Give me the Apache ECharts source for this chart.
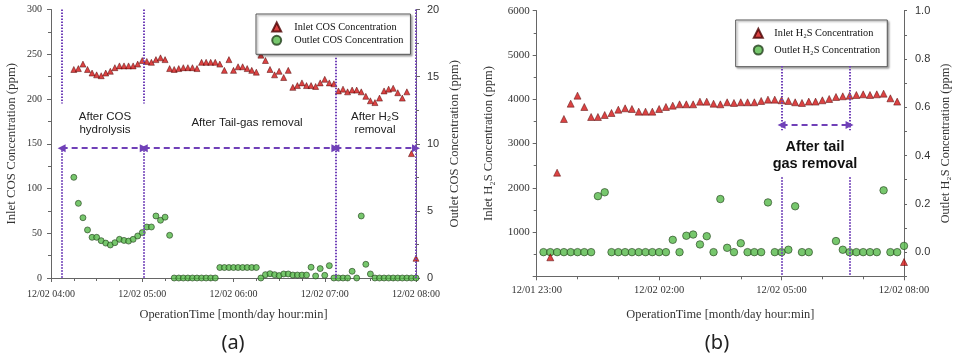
<!DOCTYPE html>
<html>
<head>
<meta charset="utf-8">
<script src="https://cdn.jsdelivr.net/npm/echarts@6/dist/echarts.min.js"></script>
<style>
html, body { margin: 0; padding: 0; background: #fff; }
#main { width: 954px; height: 362px; }
</style>
</head>
<body>
<div id="main"></div>
<script>
var chart = echarts.init(document.getElementById('main'));

// ---- (a) COS, sampled about every 3 min on 12/02 ----
var cosTime = [
    '04:15','04:18','04:21','04:24','04:27','04:30','04:33','04:36','04:39','04:42',
    '04:45','04:48','04:51','04:54','04:57','05:00','05:03','05:06','05:09','05:12',
    '05:15','05:18','05:21','05:24','05:27','05:30','05:33','05:36','05:39','05:42',
    '05:45','05:48','05:51','05:54','05:57','06:00','06:03','06:06','06:09','06:12',
    '06:15','06:18','06:21','06:24','06:27','06:30','06:33','06:36','06:39','06:42',
    '06:45','06:48','06:51','06:54','06:57','07:00','07:03','07:06','07:09','07:12',
    '07:15','07:18','07:21','07:24','07:27','07:30','07:33','07:36','07:39','07:42',
    '07:45','07:48','07:51','07:54','07:57','08:00'
];
var cosInlet = [
    233, 234, 239, 233, 229, 227, 226, 229, 231, 235,
    237, 237, 237, 237, 239, 243, 242, 241, 244, 246,
    244, 234, 233, 234, 235, 235, 235, 234, 241, 241,
    241, 241, 239, 232, 244, 232, 236, 236, 234, 232,
    230, 249, 243, 233, 227, 231, 224, 232, 213, 215,
    218, 215, 215, 214, 218, 222, 218, 217, 209, 211,
    208, 210, 210, 208, 203, 198, 196, 201, 209, 211,
    212, 207, 201, 208, 139, 22
];
var cosOutlet = [
    7.50, 5.56, 4.49, 3.58, 3.03, 3.03, 2.78, 2.60, 2.46, 2.63,
    2.88, 2.80, 2.75, 2.88, 3.13, 3.38, 3.80, 3.80, 4.62, 4.30,
    4.53, 3.18, 0, 0, 0, 0, 0, 0, 0, 0,
    0, 0, 0.78, 0.78, 0.78, 0.78, 0.78, 0.78, 0.78, 0.78,
    0.78, 0, 0.25, 0.32, 0.25, 0.18, 0.30, 0.30, 0.22, 0.22,
    0.22, 0.22, 0.80, 0.15, 0.70, 0.20, 0.92, 0, 0, 0,
    0, 0.50, 0, 4.62, 1.02, 0.30, 0, 0, 0, 0,
    0, 0, 0, 0, 0, 0
];
var cosPhase = ['04:07', '05:01', '07:07', '08:00'];

// ---- (b) H2S, sampled every 10 min, 12/01 23:00 - 12/02 08:00 ----
var h2sInTime = [
    '23:20','23:30','23:40','23:50','00:00','00:10','00:20','00:30','00:40','00:50',
    '01:00','01:10','01:20','01:30','01:40','01:50','02:00','02:10','02:20','02:30',
    '02:40','02:50','03:00','03:10','03:20','03:30','03:40','03:50','04:00','04:10',
    '04:20','04:30','04:40','04:50','05:00','05:10','05:20','05:30','05:40','05:50',
    '06:00','06:10','06:20','06:30','06:40','06:50','07:00','07:10','07:20','07:30',
    '07:40','07:50','08:00'
];
var h2sInlet = [
    429, 2341, 3554, 3900, 4081, 3825, 3599, 3599, 3644, 3690,
    3764, 3795, 3780, 3720, 3720, 3720, 3780, 3825, 3855, 3885,
    3885, 3885, 3945, 3945, 3900, 3885, 3931, 3916, 3931, 3931,
    3931, 3961, 3991, 3991, 3976, 3961, 3931, 3916, 3946, 3946,
    3976, 4006, 4051, 4066, 4081, 4096, 4111, 4096, 4111, 4126,
    4021, 3946, 323
];
var h2sOutTime = [
    '23:10','23:20','23:30','23:40','23:50','00:00','00:10','00:20','00:30','00:40',
    '00:50','01:00','01:10','01:20','01:30','01:40','01:50','02:00','02:10','02:20',
    '02:30','02:40','02:50','03:00','03:10','03:20','03:30','03:40','03:50','04:00',
    '04:10','04:20','04:30','04:40','04:50','05:00','05:10','05:20','05:30','05:40',
    '06:20','06:30','06:40','06:50','07:00','07:10','07:20','07:30','07:40','07:50',
    '08:00'
];
var h2sOutlet = [
    0, 0, 0, 0, 0, 0, 0, 0, 0.232, 0.248,
    0, 0, 0, 0, 0, 0, 0, 0, 0, 0.051,
    0, 0.068, 0.073, 0.032, 0.066, 0, 0.220, 0.018, 0, 0.037,
    0, 0, 0, 0.206, 0, 0, 0.010, 0.190, 0, 0,
    0.046, 0.010, 0, 0, 0, 0, 0, 0.256, 0, 0,
    0.026
];
var h2sPhase = ['05:00', '06:40'];

var SERIF = '"Liberation Serif", "Times New Roman", serif';
var SANS = '"Liberation Sans", Arial, sans-serif';
var PURPLE = '#7040b8';
var AXIS = '#666';

function pad(n) { return ('0' + n).slice(-2); }
// minutes after 12/02 04:00
function minA(s) { var p = s.split(':'); return (+p[0]) * 60 + (+p[1]) - 240; }
// minutes after 12/01 23:00
function minB(s) {
    var p = s.split(':');
    var m = (+p[0]) * 60 + (+p[1]);
    return m >= 1380 ? m - 1380 : m + 60;
}
function labA(v) {
    var m = v + 240;
    return '12/02 ' + pad(Math.floor(m / 60)) + ':' + pad(m % 60);
}
function labB(v) {
    var m = v + 1380;
    var day = m >= 1440 ? '12/02' : '12/01';
    m = m % 1440;
    return day + ' ' + pad(Math.floor(m / 60)) + ':' + pad(m % 60);
}

function pairs(times, vals, conv) {
    return times.map(function (t, i) { return [conv(t), vals[i]]; });
}

function vline(x, y1, y2) {
    return [
        { coord: [x, y1], lineStyle: { color: PURPLE, width: 2, type: [1.5, 1.5] } },
        { coord: [x, y2] }
    ];
}
function arrow(x1, x2, y) {
    return [
        { coord: [x1, y], symbol: 'triangle', symbolSize: 8,
          lineStyle: { color: PURPLE, width: 1.8, type: [6, 4] } },
        { coord: [x2, y], symbol: 'triangle', symbolSize: 8 }
    ];
}

var pa = cosPhase.map(minA);
var pb = h2sPhase.map(minB);

function xAxisBase(extra) {
    return Object.assign({
        type: 'value',
        axisLine: { show: true, onZero: false, lineStyle: { color: AXIS } },
        axisTick: { show: true, length: 4, lineStyle: { color: AXIS } },
        minorTick: { show: true, length: 3, lineStyle: { color: AXIS } },
        splitLine: { show: false },
        name: 'OperationTime [month/day hour:min]',
        nameLocation: 'middle',
        nameTextStyle: { fontFamily: SERIF, fontSize: 12.4, color: '#333' }
    }, extra);
}
function yAxisBase(extra, size) {
    return Object.assign({
        type: 'value',
        axisLine: { show: true, onZero: false, lineStyle: { color: AXIS } },
        axisTick: { show: true, length: 4, lineStyle: { color: AXIS } },
        splitLine: { show: false },
        nameLocation: 'middle',
        nameRotate: 90,
        nameTextStyle: { fontFamily: SERIF, fontSize: size, color: '#333' }
    }, extra);
}

var legendBase = {
    orient: 'vertical',
    selectedMode: false,
    backgroundColor: '#fff',
    borderColor: '#555',
    borderWidth: 1,
    shadowColor: 'rgba(0,0,0,0.35)',
    shadowBlur: 2,
    shadowOffsetX: 1.5,
    shadowOffsetY: 1.5,
    itemWidth: 9,
    itemHeight: 9
};

var option = {
    animation: false,
    grid: [
        { left: 51, right: 538, top: 9.5, bottom: 84 },
        { left: 536.7, right: 50, top: 10.7, bottom: 85.7 }
    ],
    xAxis: [
        xAxisBase({
            gridIndex: 0, min: 0, max: 240, interval: 60,
            minorTick: { show: true, splitNumber: 4, length: 3, lineStyle: { color: AXIS } },
            axisLabel: { formatter: labA, fontFamily: SERIF, fontSize: 10, color: '#333', margin: 11 },
            nameGap: 31
        }),
        xAxisBase({
            gridIndex: 1, min: 0, max: 540, interval: 180,
            minorTick: { show: true, splitNumber: 3, length: 3, lineStyle: { color: AXIS } },
            axisLabel: { formatter: labB, fontFamily: SERIF, fontSize: 10.5, color: '#333', margin: 8 },
            nameGap: 32
        })
    ],
    yAxis: [
        yAxisBase({
            gridIndex: 0, position: 'left', min: 0, max: 300, interval: 50,
            minorTick: { show: true, splitNumber: 2, length: 3, lineStyle: { color: AXIS } },
            axisLabel: { fontFamily: SERIF, fontSize: 10, color: '#333', margin: 9 },
            name: 'Inlet COS Concentration (ppm)', nameGap: 32.5
        }, 12.8),
        yAxisBase({
            gridIndex: 0, position: 'right', min: 0, max: 20, interval: 5,
            minorTick: { show: true, splitNumber: 2, length: 3, lineStyle: { color: AXIS } },
            axisLabel: { fontFamily: SANS, fontSize: 11, color: '#333', margin: 11 },
            name: 'Outlet COS Concentration (ppm)', nameGap: 32.5
        }, 12.6),
        yAxisBase({
            gridIndex: 1, position: 'left', min: 0, max: 6000, interval: 1000,
            minorTick: { show: true, splitNumber: 2, length: 3, lineStyle: { color: AXIS } },
            axisLabel: {
                fontFamily: SERIF, fontSize: 11, color: '#333', margin: 7,
                formatter: function (v) { return v === 0 ? '' : String(v); }
            },
            name: 'Inlet H\u2082S Concentration (ppm)', nameGap: 42
        }, 12.6),
        yAxisBase({
            gridIndex: 1, position: 'right', min: -0.1, max: 1.0, interval: 0.1,
            axisTick: { show: true, length: 3, lineStyle: { color: AXIS } },
            axisLabel: {
                fontFamily: SANS, fontSize: 11, color: '#333', margin: 11,
                formatter: function (v) {
                    var k = Math.round(v * 10);
                    return (k >= 0 && k % 2 === 0) ? (k / 10).toFixed(1) : '';
                }
            },
            name: 'Outlet H\u2082S Concentration (ppm)', nameGap: 36
        }, 12.3)
    ],
    legend: [
        Object.assign({}, legendBase, {
            left: 256, top: 14,
            padding: [7.5, 7, 8.5, 15.2],
            itemGap: 2.3,
            textStyle: { fontFamily: SERIF, fontSize: 10.3, color: '#111', lineHeight: 11, padding: [0, 0, 0, 8] },
            data: ['Inlet COS Concentration', 'Outlet COS Concentration']
        }),
        Object.assign({}, legendBase, {
            left: 735.7, top: 20,
            padding: [7.8, 7, 11.2, 17.1],
            itemGap: 5.7,
            textStyle: { fontFamily: SERIF, fontSize: 10.3, color: '#111', lineHeight: 11, padding: [0, 0, 0, 6.5] },
            data: ['Inlet H\u2082S Concentration', 'Outlet H\u2082S Concentration']
        })
    ],
    graphic: [
        { type: 'text', x: 105, y: 123.5, style: { text: 'After COS\nhydrolysis', fontFamily: SANS, fontSize: 11.5, lineHeight: 13, align: 'center', verticalAlign: 'middle', fill: '#222' } },
        { type: 'text', x: 247, y: 123, style: { text: 'After Tail-gas removal', fontFamily: SANS, fontSize: 11.5, align: 'center', verticalAlign: 'middle', fill: '#222' } },
        { type: 'text', x: 375, y: 123.5, style: { text: 'After H\u2082S\nremoval', fontFamily: SANS, fontSize: 11.5, lineHeight: 13, align: 'center', verticalAlign: 'middle', fill: '#222' } },
        { type: 'text', x: 815, y: 155.5, style: { text: 'After tail\ngas removal', fontFamily: SANS, fontSize: 14.5, fontWeight: 'bold', lineHeight: 17, align: 'center', verticalAlign: 'middle', fill: '#111' } },
        { type: 'text', x: 233, y: 343, style: { text: '(a)', fontFamily: '"Noto Sans", sans-serif', fontSize: 20, align: 'center', verticalAlign: 'middle', fill: '#222' } },
        { type: 'text', x: 717, y: 343, style: { text: '(b)', fontFamily: '"Noto Sans", sans-serif', fontSize: 20, align: 'center', verticalAlign: 'middle', fill: '#222' } }
    ],
    series: [
        {
            name: 'Inlet COS Concentration',
            type: 'scatter', xAxisIndex: 0, yAxisIndex: 0, clip: false,
            symbol: 'triangle', symbolSize: 6,
            itemStyle: { color: '#d21414', borderColor: '#4a0000', borderWidth: 0.6 },
            data: pairs(cosTime, cosInlet, minA),
            z: 3,
            markLine: {
                silent: true, symbol: 'none', label: { show: false }, emphasis: { disabled: true },
                data: [
                    vline(pa[0], 300, 195), vline(pa[0], 146, 0),
                    vline(pa[1], 300, 195), vline(pa[1], 146, 0),
                    vline(pa[2], 246, 0),
                    vline(pa[3], 300, 0),
                    arrow(pa[0], pa[1], 145),
                    arrow(pa[1], pa[2], 145),
                    arrow(pa[2], pa[3], 145)
                ]
            }
        },
        {
            name: 'Outlet COS Concentration',
            type: 'scatter', xAxisIndex: 0, yAxisIndex: 1, clip: false,
            symbol: 'circle', symbolSize: 6,
            itemStyle: { color: '#55b948', borderColor: '#24401e', borderWidth: 0.8 },
            data: pairs(cosTime, cosOutlet, minA)
        },
        {
            name: 'Inlet H\u2082S Concentration',
            type: 'scatter', xAxisIndex: 1, yAxisIndex: 2, clip: false,
            symbol: 'triangle', symbolSize: 7,
            itemStyle: { color: '#d21414', borderColor: '#4a0000', borderWidth: 0.6 },
            data: pairs(h2sInTime, h2sInlet, minB),
            z: 3,
            markLine: {
                silent: true, symbol: 'none', label: { show: false }, emphasis: { disabled: true },
                data: [
                    vline(pb[0], 4750, 3300), vline(pb[0], 2240, 0),
                    vline(pb[1], 4750, 3300), vline(pb[1], 2240, 0),
                    arrow(pb[0], pb[1], 3418)
                ]
            }
        },
        {
            name: 'Outlet H\u2082S Concentration',
            type: 'scatter', xAxisIndex: 1, yAxisIndex: 3, clip: false,
            symbol: 'circle', symbolSize: 7.5,
            itemStyle: { color: '#55b948', borderColor: '#24401e', borderWidth: 0.8 },
            data: pairs(h2sOutTime, h2sOutlet, minB)
        }
    ]
};

chart.setOption(option);

window.addEventListener('resize', function () {
    chart.resize();
});
</script>
</body>
</html>
